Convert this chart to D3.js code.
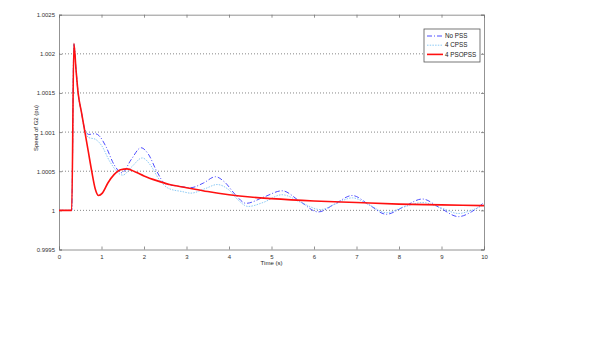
<!DOCTYPE html>
<html>
<head>
<meta charset="utf-8">
<script src="https://cdn.jsdelivr.net/npm/d3@7"></script>
<style>
  body { margin: 0; background: #fff; }
  svg { display: block; font-family: "Liberation Sans", Arial, sans-serif; }
</style>
</head>
<body>
<div id="chart"></div>
<script>
// time points (s) and speed of G2 (pu)
const redT  = [0, 0.3, 0.35, 0.4, 0.45, 0.53, 0.61, 0.69, 0.77, 0.85, 0.93, 1.02, 1.15, 1.3, 1.45, 1.6, 1.8, 2.0, 2.3, 2.6, 3.0, 3.5, 4.0, 4.5, 5.0, 6.0, 7.0, 8.0, 9.0, 10];
const redV  = [1, 1, 1.00213, 1.0018, 1.0015, 1.00125, 1.001, 1.00075, 1.0005, 1.00028, 1.00019, 1.00022, 1.00035, 1.00046, 1.00052, 1.00053, 1.00049, 1.00044, 1.00038, 1.00033, 1.00029, 1.00024, 1.0002, 1.00017, 1.00015, 1.00012, 1.0001, 1.00008, 1.00007, 1.00006];

const blueT = [0, 0.3, 0.35, 0.4, 0.45, 0.53, 0.6, 0.7, 0.85, 0.95, 1.1, 1.3, 1.48, 1.7, 1.93, 2.1, 2.3, 2.5, 2.8, 3.1, 3.4, 3.68, 3.9, 4.15, 4.4, 4.82, 5.25, 5.67, 6.1, 6.5, 6.9, 7.3, 7.7, 8.12, 8.55, 8.97, 9.4, 9.7, 10];
const blueV = [1, 1, 1.00213, 1.0018, 1.0015, 1.00125, 1.00105, 1.00097, 1.00098, 1.00095, 1.00082, 1.00058, 1.00048, 1.00065, 1.0008, 1.00072, 1.0005, 1.00034, 1.00031, 1.00029, 1.00035, 1.00043, 1.00036, 1.0002, 1.00009, 1.00017, 1.00025, 1.000115, 0.99998, 1.000085, 1.00019, 1.00007, 0.99995, 1.000048, 1.000145, 1.00003, 0.99992, 0.99998, 1.0001];

const cyanT = [0, 0.3, 0.35, 0.4, 0.45, 0.53, 0.6, 0.7, 0.85, 1.0, 1.2, 1.5, 1.7, 1.96, 2.15, 2.35, 2.58, 2.9, 3.1, 3.45, 3.72, 4.0, 4.2, 4.45, 4.8, 5.25, 5.7, 6.15, 6.5, 6.9, 7.3, 7.7, 8.1, 8.55, 9.0, 9.4, 9.7, 10];
const cyanV = [1, 1, 1.00213, 1.0018, 1.0015, 1.00125, 1.00103, 1.00093, 1.00091, 1.00083, 1.00062, 1.00045, 1.00055, 1.00067, 1.00058, 1.0004, 1.00028, 1.00024, 1.00022, 1.00028, 1.00033, 1.00026, 1.00014, 1.00005, 1.0001, 1.0002, 1.0001, 1.00001, 1.00008, 1.00016, 1.00007, 0.99997, 1.00004, 1.0001, 1.00003, 0.99996, 1.0, 1.00007];

const xTicks = [0, 1, 2, 3, 4, 5, 6, 7, 8, 9, 10];
const yTicks = [0.9995, 1, 1.0005, 1.001, 1.0015, 1.002, 1.0025];
const yTickLabels = ["0.9995", "1", "1.0005", "1.001", "1.0015", "1.002", "1.0025"];
const legendNames = ["No PSS", "4 CPSS", "4 PSOPSS"];

const W = 590, H = 352;
const plot = { left: 59, right: 484, top: 14.7, bottom: 249.5 };

const svg = d3.select("#chart").append("svg")
    .attr("width", W)
    .attr("height", H);

const x = d3.scaleLinear().domain([0, 10]).range([plot.left, plot.right]);
const y = d3.scaleLinear().domain([0.9995, 1.0025]).range([plot.bottom, plot.top]);

// horizontal dotted grid
svg.append("g")
    .selectAll("line")
    .data(yTicks.slice(1, -1))
    .enter().append("line")
    .attr("x1", plot.left).attr("x2", plot.right)
    .attr("y1", d => y(d)).attr("y2", d => y(d))
    .attr("stroke", "#555")
    .attr("stroke-width", 0.7)
    .attr("stroke-dasharray", "1,2");

// axes with inside ticks, MATLAB style
const axisColor = "#777";
const xAxisB = d3.axisBottom(x).tickValues(xTicks).tickSize(-3).tickPadding(5).tickFormat(d3.format("d"));
const xAxisT = d3.axisTop(x).tickValues(xTicks).tickSize(-3).tickFormat("");
const yAxisL = d3.axisLeft(y).tickValues(yTicks).tickSize(-3).tickPadding(4).tickFormat((d, i) => yTickLabels[i]);
const yAxisR = d3.axisRight(y).tickValues(yTicks).tickSize(-3).tickFormat("");

function styleAxis(g) {
    g.select(".domain").attr("stroke", axisColor).attr("stroke-width", 0.8);
    g.selectAll(".tick line").attr("stroke", axisColor).attr("stroke-width", 0.8);
    g.selectAll(".tick text").attr("fill", "#333").style("font-size", "6px");
}

svg.append("g").attr("transform", `translate(0,${plot.bottom})`).call(xAxisB).call(styleAxis);
svg.append("g").attr("transform", `translate(0,${plot.top})`).call(xAxisT).call(styleAxis);
svg.append("g").attr("transform", `translate(${plot.left},0)`).call(yAxisL).call(styleAxis);
svg.append("g").attr("transform", `translate(${plot.right},0)`).call(yAxisR).call(styleAxis);

// series
const line = d3.line()
    .x(d => x(d[0]))
    .y(d => y(d[1]))
    .curve(d3.curveMonotoneX);

const series = [
    { name: legendNames[0], t: blueT, v: blueV, color: "#3b3bff", width: 0.9, dash: "5,2,1,2" },
    { name: legendNames[1], t: cyanT, v: cyanV, color: "#8ccaf5", width: 1, dash: "1.5,1.2" },
    { name: legendNames[2], t: redT, v: redV, color: "#ff1010", width: 1.6, dash: null }
];

series.forEach(s => {
    svg.append("path")
        .datum(s.t.map((t, i) => [t, s.v[i]]))
        .attr("fill", "none")
        .attr("stroke", s.color)
        .attr("stroke-width", s.width)
        .attr("stroke-dasharray", s.dash)
        .attr("d", line);
});

// axis labels
svg.append("text")
    .attr("x", (plot.left + plot.right) / 2)
    .attr("y", 265)
    .attr("text-anchor", "middle")
    .style("font-size", "6px")
    .attr("fill", "#222")
    .text("Time (s)");

svg.append("text")
    .attr("transform", "translate(37.5,128) rotate(-90)")
    .attr("text-anchor", "middle")
    .style("font-size", "6px")
    .attr("fill", "#222")
    .text("Speed of G2 (pu)");

// legend
const lg = svg.append("g");
lg.append("rect")
    .attr("x", 424).attr("y", 29)
    .attr("width", 56).attr("height", 33)
    .attr("fill", "#fff")
    .attr("stroke", "#555")
    .attr("stroke-width", 0.8);

series.forEach((s, i) => {
    const ly = 36 + i * 9.2;
    lg.append("line")
        .attr("x1", 427).attr("x2", 443)
        .attr("y1", ly).attr("y2", ly)
        .attr("stroke", s.color)
        .attr("stroke-width", s.width)
        .attr("stroke-dasharray", s.dash);
    lg.append("text")
        .attr("x", 445).attr("y", ly + 2.2)
        .style("font-size", "6.3px")
        .attr("fill", "#222")
        .text(s.name);
});
</script>
</body>
</html>
